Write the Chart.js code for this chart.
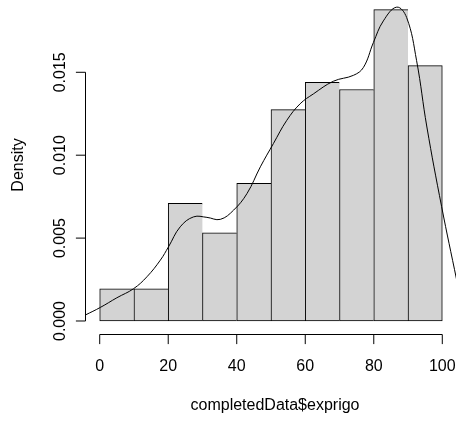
<!DOCTYPE html>
<html>
<head>
<meta charset="utf-8">
<script src="https://cdn.jsdelivr.net/npm/chart.js@4"></script>
<style>
  html, body { margin: 0; padding: 0; background: #fff; }
  #wrap { width: 457px; height: 421px; }
</style>
</head>
<body>
<div id="wrap"><canvas id="c" width="457" height="421"></canvas></div>
<script>
// Histogram bins (midpoints) and densities
const binMids = [5, 15, 25, 35, 45, 55, 65, 75, 85, 95];
const binDensity = [0.00194, 0.00194, 0.0071, 0.00532, 0.00831, 0.01275, 0.0144, 0.01396, 0.01878, 0.0154];
// Kernel density curve
const curveX = [-4.2, 0.2, 5, 9.9, 13.8, 17.7, 20.1, 23.5, 27.4, 31.3, 35.2, 39.1, 43.0, 46.9, 50.7, 54.6, 58.5, 62.4, 68.2, 74.1, 77.0, 79.9, 82.8, 86.7, 89.6, 92.5, 95.5, 99.8, 104.2];
const curveY = [0.00036, 0.00082, 0.0014, 0.00195, 0.00267, 0.00367, 0.00448, 0.00568, 0.00628, 0.00625, 0.00613, 0.00669, 0.00769, 0.0093, 0.0107, 0.0121, 0.0131, 0.0137, 0.01446, 0.01482, 0.0153, 0.0168, 0.0181, 0.01893, 0.0183, 0.0157, 0.0117, 0.0069, 0.00247];
// Tick labels
const xTicks = [0, 20, 40, 60, 80, 100];
const yTicks = [0, 0.005, 0.010, 0.015];
const yTickLabels = ['0.000', '0.005', '0.010', '0.015'];
const xTitle = 'completedData$exprigo';
const yTitle = 'Density';

const FONT = '16px "Liberation Sans", Arial, sans-serif';

const rAxes = {
  id: 'rAxes',
  afterDraw(chart) {
    const ctx = chart.ctx;
    const xs = chart.scales.x, ys = chart.scales.y;
    const area = chart.chartArea;
    ctx.save();
    ctx.strokeStyle = '#000';
    ctx.lineWidth = 1;
    ctx.fillStyle = '#000';
    ctx.font = FONT;
    // Y axis
    const ax = Math.floor(area.left) - 0.5;
    ctx.beginPath();
    ctx.moveTo(ax, ys.getPixelForValue(yTicks[0]));
    ctx.lineTo(ax, ys.getPixelForValue(yTicks[yTicks.length - 1]));
    yTicks.forEach(v => {
      const p = ys.getPixelForValue(v);
      ctx.moveTo(ax, p);
      ctx.lineTo(ax - 9.6, p);
    });
    ctx.stroke();
    yTicks.forEach((v, i) => {
      const p = ys.getPixelForValue(v);
      ctx.save();
      ctx.translate(65, p);
      ctx.rotate(-Math.PI / 2);
      ctx.textAlign = 'center';
      ctx.textBaseline = 'alphabetic';
      ctx.fillText(yTickLabels[i], 0, 0);
      ctx.restore();
    });
    // X axis
    const ay = Math.round(area.bottom) + 0.5;
    ctx.beginPath();
    ctx.moveTo(xs.getPixelForValue(xTicks[0]), ay);
    ctx.lineTo(xs.getPixelForValue(xTicks[xTicks.length - 1]), ay);
    xTicks.forEach(v => {
      const p = xs.getPixelForValue(v);
      ctx.moveTo(p, ay);
      ctx.lineTo(p, ay + 9.6);
    });
    ctx.stroke();
    ctx.textAlign = 'center';
    ctx.textBaseline = 'alphabetic';
    xTicks.forEach(v => {
      ctx.fillText(String(v), xs.getPixelForValue(v), 371);
    });
    // Titles
    ctx.fillText(xTitle, 275, 410);
    ctx.save();
    ctx.translate(23, 165);
    ctx.rotate(-Math.PI / 2);
    ctx.fillText(yTitle, 0, 0);
    ctx.restore();
    ctx.restore();
  }
};

new Chart(document.getElementById('c'), {
  type: 'bar',
  data: {
    datasets: [
      {
        type: 'line',
        order: 0,
        data: curveX.map((x, i) => ({ x: x, y: curveY[i] })),
        borderColor: '#000',
        borderWidth: 1,
        pointRadius: 0,
        tension: 0.4,
        fill: false
      },
      {
        type: 'bar',
        order: 1,
        data: binMids.map((x, i) => ({ x: x, y: binDensity[i] })),
        backgroundColor: '#D3D3D3',
        borderColor: '#000',
        borderWidth: (c) => ({ top: 1, left: 1, bottom: 1, right: c.dataIndex === binMids.length - 1 ? 1 : 0 }),
        borderSkipped: false,
        barPercentage: 1,
        categoryPercentage: 1
      }
    ]
  },
  options: {
    responsive: false,
    animation: false,
    layout: { padding: { left: 86, right: 1, top: 0, bottom: 87.5 } },
    plugins: { legend: { display: false }, tooltip: { enabled: false } },
    scales: {
      x: { type: 'linear', min: -4, max: 104, display: false, offset: false },
      y: { type: 'linear', min: -0.000754, max: 0.01936, display: false }
    }
  },
  plugins: [rAxes]
});
</script>
</body>
</html>
